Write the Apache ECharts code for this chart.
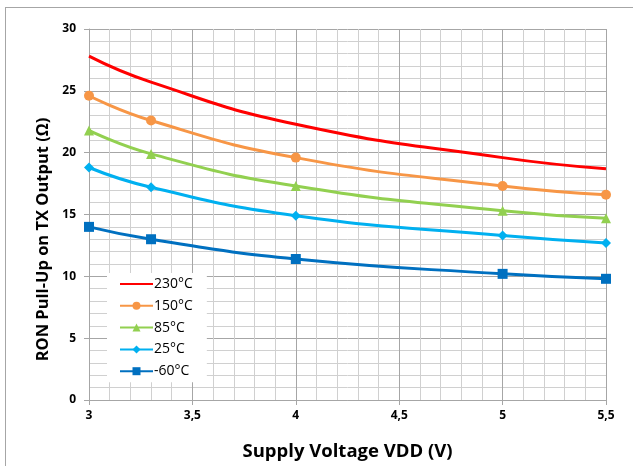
<!DOCTYPE html>
<html>
<head>
<meta charset="utf-8">
<script src="https://cdn.jsdelivr.net/npm/echarts@6/dist/echarts.min.js"></script>
<style>
html,body{margin:0;padding:0;background:#fff;overflow:hidden;}
#frame{position:absolute;left:5px;top:7px;width:700px;height:500px;border:1px solid #a6a6a6;box-sizing:border-box;}
#c{position:absolute;left:0;top:0;width:633px;height:466px;}
</style>
</head>
<body>
<div id="frame"></div>
<div id="c"></div>
<script>
var voltages = [3, 3.3, 4, 5, 5.5];
var names = ['230°C', '150°C', '85°C', '25°C', '-60°C'];
var t230 = [27.8, 25.7, 22.3, 19.6, 18.7];
var t150 = [24.6, 22.6, 19.6, 17.3, 16.6];
var t85 = [21.8, 19.9, 17.3, 15.3, 14.7];
var t25 = [18.8, 17.2, 14.9, 13.3, 12.7];
var tm60 = [14.0, 13.0, 11.4, 10.2, 9.8];
var colors = ['#ff0000', '#f79646', '#92d050', '#00b0f0', '#0070c0'];
var symbols = ['none', 'circle', 'triangle', 'diamond', 'rect'];
var symbolSizes = [0, 10, 10, 10, 10];
var allVals = [t230, t150, t85, t25, tm60];

function pairs(v){ return voltages.map(function(x,i){ return [x, v[i]]; }); }
function fmt(v){ return String(v).replace('.', ','); }

var series = names.map(function(n, i){
  return {
    name: n, type: 'line', smooth: true,
    data: pairs(allVals[i]),
    symbol: symbols[i], symbolSize: symbolSizes[i], showSymbol: symbols[i] !== 'none',
    lineStyle: {color: colors[i], width: 3},
    itemStyle: {color: colors[i]},
    z: 10 - i
  };
});

var legendData = names.map(function(n, i){
  if (i === 0) return {name: n, itemStyle: {opacity: 0}};
  return {name: n};
});

var font = 'Open Sans';
var chart = echarts.init(document.getElementById('c'), null, {renderer: 'canvas'});
chart.setOption({
  animation: false,
  textStyle: {fontFamily: font},
  grid: {left: 89, right: 27, top: 29, bottom: 66, containLabel: false},
  legend: {
    orient: 'vertical', left: 107, top: 273,
    backgroundColor: '#ffffff', padding: [4, 14, 4, 12],
    itemWidth: 33, itemHeight: 10, itemGap: 7.8,
    textStyle: {fontFamily: font, fontSize: 14, color: '#000', padding: [0,0,0,-4]},
    data: legendData
  },
  xAxis: {
    type: 'value', min: 3, max: 5.5, interval: 0.5,
    name: 'Supply Voltage VDD (V)', nameLocation: 'middle', nameGap: 42,
    nameTextStyle: {fontFamily: font, fontSize: 18.5, fontWeight: 'bold', color: '#000'},
    axisLine: {show: true, lineStyle: {color: '#a6a6a6', width: 1}},
    axisTick: {show: true, length: 5, lineStyle: {color: '#a6a6a6'}},
    axisLabel: {fontFamily: font, fontSize: 12, fontWeight: 'bold', color: '#000', margin: 10, formatter: fmt},
    splitLine: {show: true, lineStyle: {color: '#a6a6a6', width: 1}},
    minorTick: {show: false, splitNumber: 5},
    minorSplitLine: {show: true, lineStyle: {color: '#d0d0d0', width: 1}}
  },
  yAxis: {
    type: 'value', min: 0, max: 30, interval: 5,
    name: 'RON Pull-Up on TX Output (Ω)', nameLocation: 'middle', nameGap: 36,
    nameTextStyle: {fontFamily: font, fontSize: 16.5, fontWeight: 'bold', color: '#000', padding: [0, 50, 0, 0]},
    axisLine: {show: true, lineStyle: {color: '#a6a6a6', width: 1}},
    axisTick: {show: true, length: 5, lineStyle: {color: '#a6a6a6'}},
    axisLabel: {fontFamily: font, fontSize: 12, fontWeight: 'bold', color: '#000', margin: 13},
    splitLine: {show: true, lineStyle: {color: '#a6a6a6', width: 1}},
    minorTick: {show: false, splitNumber: 5},
    minorSplitLine: {show: true, lineStyle: {color: '#d0d0d0', width: 1}}
  },
  series: series
});
</script>
</body>
</html>
